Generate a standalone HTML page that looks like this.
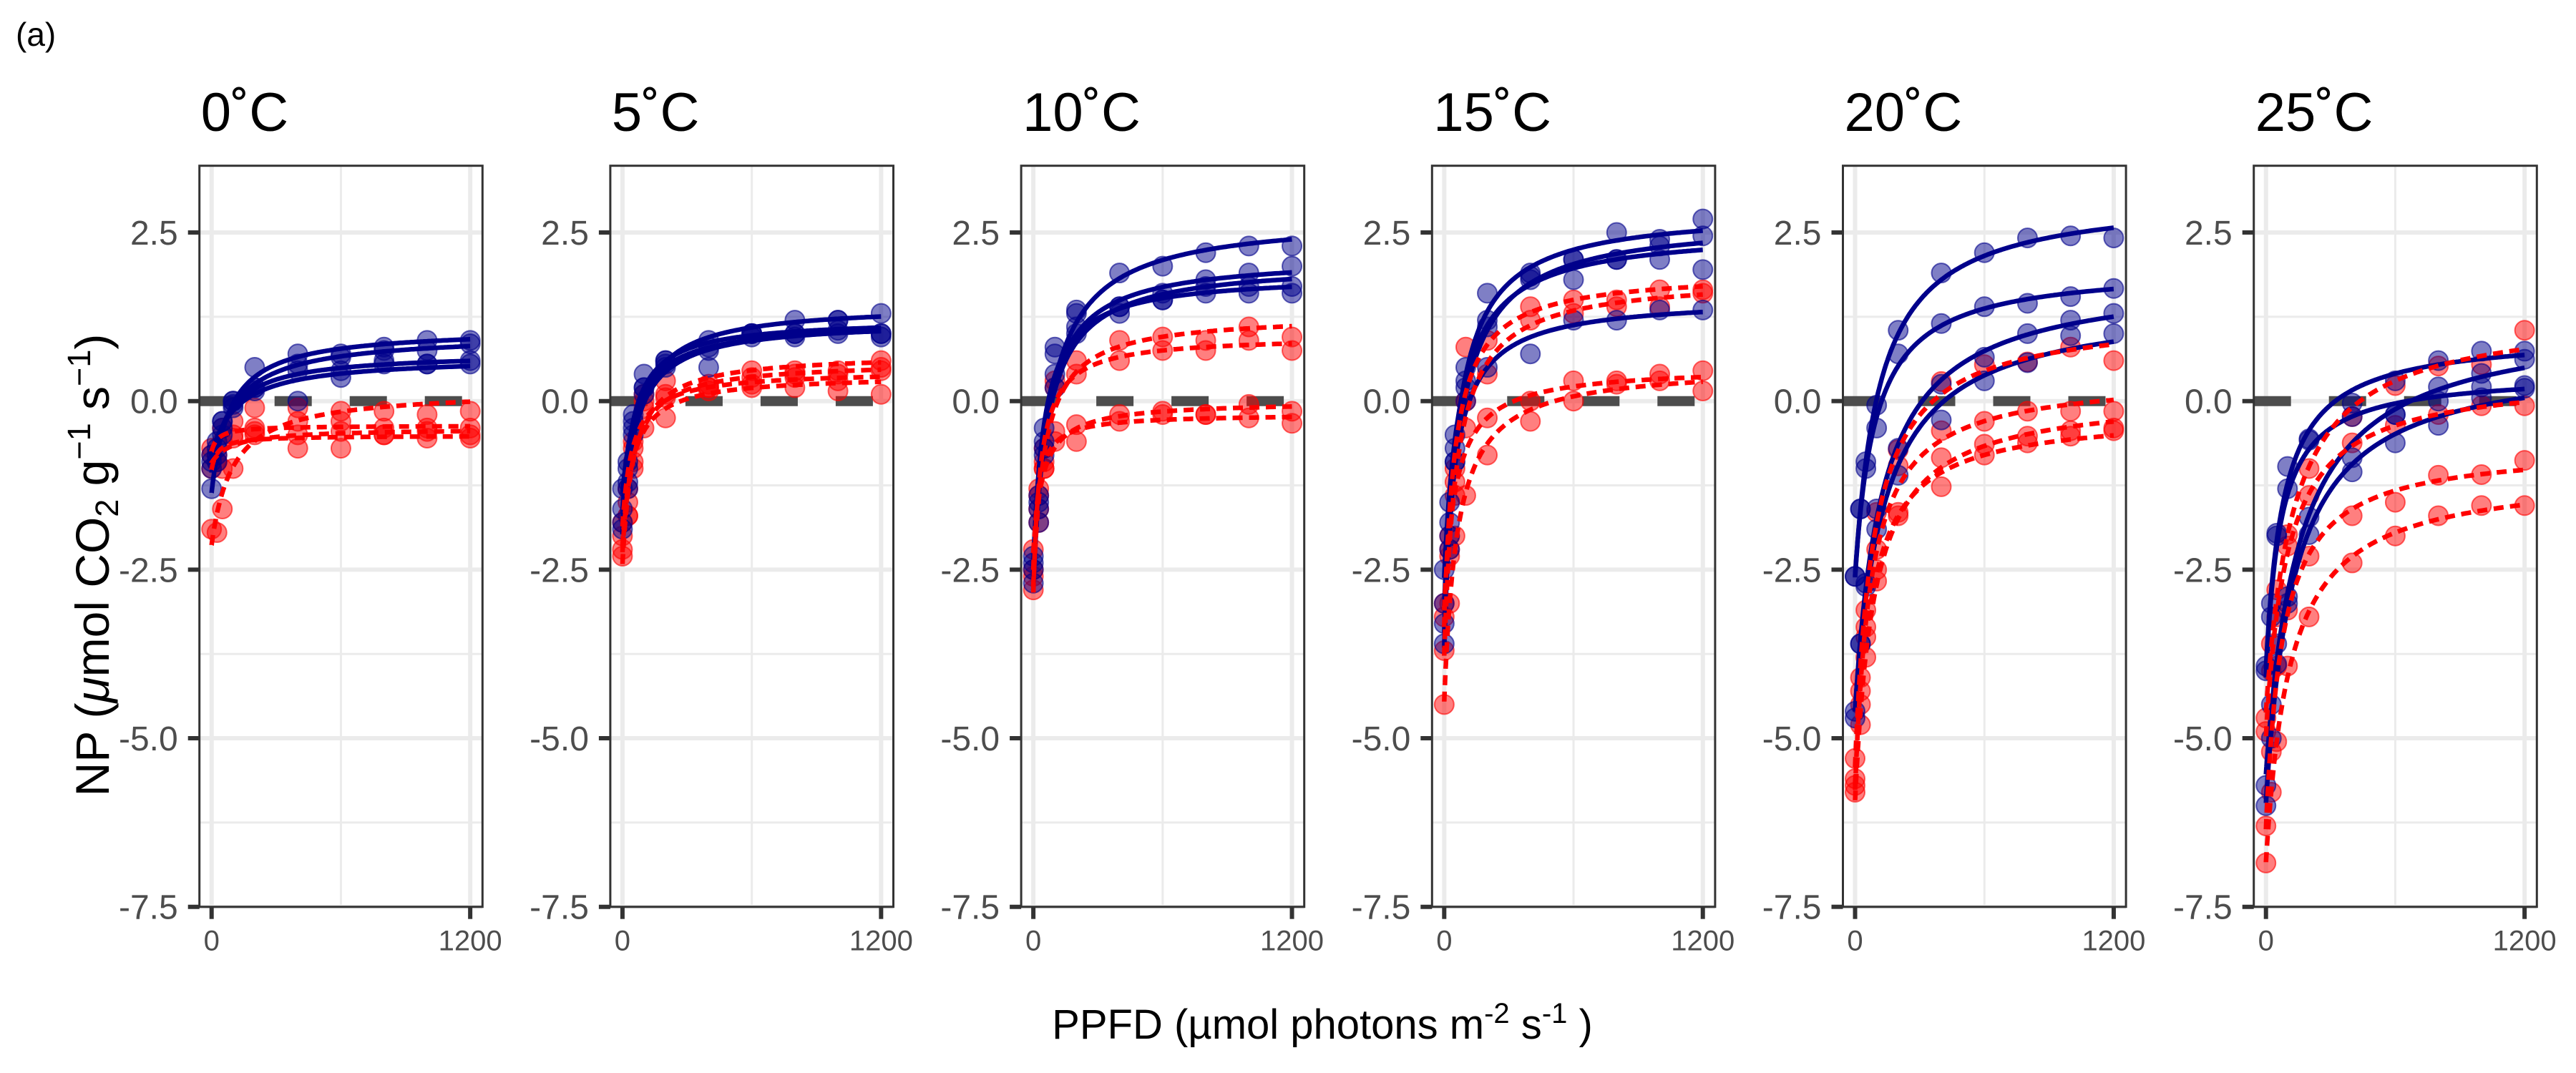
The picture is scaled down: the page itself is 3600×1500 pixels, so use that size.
<!DOCTYPE html>
<html><head><meta charset="utf-8"><style>
html,body{margin:0;padding:0;background:#fff;}
svg{display:block;font-family:"Liberation Sans",Arial,sans-serif;}
</style></head><body>
<svg id="chart" width="3600" height="1500" viewBox="0 0 3600 1500" xmlns="http://www.w3.org/2000/svg">
<text x="22" y="64" font-size="46" fill="#000">(a)</text>
<g id="panels"></g>
<text transform="translate(152,790) rotate(-90)" text-anchor="middle" font-size="66" fill="#000">NP (<tspan font-style="italic">μ</tspan>mol CO<tspan font-size="45" dy="13">2</tspan><tspan dy="-13"> g</tspan><tspan font-size="45" dy="-26">−1</tspan><tspan dy="26"> s</tspan><tspan font-size="45" dy="-26">−1</tspan><tspan dy="26">)</tspan></text>
<text x="1848" y="1452" text-anchor="middle" font-size="58" fill="#000">PPFD (µmol photons m<tspan font-size="40" dy="-22">-2</tspan><tspan dy="22"> s</tspan><tspan font-size="40" dy="-22">-1</tspan><tspan dy="22"> )</tspan></text>
</svg>
<script>
const temps = ["0˚C","5˚C","10˚C","15˚C","20˚C","25˚C"];
const ppfd = [0,25,50,100,200,400,600,800,1000,1200];
const yTicks = [2.5,0,-2.5,-5,-7.5];
const yTickLabels = ["2.5","0.0","-2.5","-5.0","-7.5"];
const xTicks = [0,1200];
const xTickLabels = ["0","1200"];
const blue0 = [[-1.3,-0.9,-0.5,0.0,0.5,0.7,0.7,0.8,0.9,0.9],[-0.9,-0.7,-0.3,-0.05,0.2,0.55,0.65,0.75,0.75,0.85],[-1.0,-0.8,-0.4,0.0,0.15,0.45,0.45,0.55,0.55,0.6],[-0.8,-0.6,-0.3,-0.1,0.2,0.0,0.35,0.6,0.55,0.55]];
const red0 = [[-1.9,-1.95,-1.6,-1.0,-0.1,-0.1,-0.15,-0.15,-0.2,-0.15],[-0.7,-0.8,-0.4,-0.3,-0.4,-0.3,-0.45,-0.4,-0.45,-0.4],[-1.0,-0.9,-0.6,-0.55,-0.5,-0.7,-0.7,-0.5,-0.4,-0.5],[-0.8,-0.9,-1.0,-0.5,-0.45,-0.5,-0.3,-0.5,-0.55,-0.55]];
const blue5 = [[-1.9,-1.3,-0.4,0.2,0.6,0.9,1.0,1.2,1.2,1.3],[-1.6,-1.0,-0.2,0.4,0.55,0.75,1.0,1.0,1.2,1.0],[-1.8,-1.2,-0.5,0.1,0.5,0.5,1.0,1.0,1.05,1.0],[-1.3,-0.9,-0.3,0.2,0.6,0.8,0.95,0.95,1.0,0.95]];
const red5 = [[-2.3,-1.7,-1.0,0.0,0.3,0.2,0.45,0.45,0.45,0.6],[-2.2,-1.5,-0.7,-0.4,0.1,0.2,0.35,0.4,0.4,0.5],[-1.8,-1.3,-0.6,0.1,-0.25,0.15,0.25,0.35,0.3,0.45],[-2.0,-1.7,-0.9,-0.1,0.05,0.25,0.2,0.2,0.15,0.1]];
const blue10 = [[-2.4,-1.8,-0.8,0.7,1.35,1.9,2.0,2.2,2.3,2.3],[-2.7,-1.6,-0.6,0.4,1.3,1.4,1.5,1.7,1.9,2.0],[-2.5,-1.5,-0.7,0.2,1.1,1.3,1.6,1.8,1.7,1.7],[-2.3,-1.4,-0.4,0.8,1.0,1.4,1.5,1.6,1.6,1.6]];
const red10 = [[-2.6,-1.8,-0.9,0.2,0.6,0.9,0.95,0.9,1.1,0.95],[-2.8,-1.4,-0.7,0.3,0.4,0.6,0.75,0.75,0.9,0.75],[-2.2,-1.6,-1.0,-0.6,-0.35,-0.2,-0.15,-0.2,-0.05,-0.15],[-2.5,-1.3,-1.0,-0.45,-0.6,-0.3,-0.2,-0.2,-0.25,-0.33]];
const blue15 = [[-3.6,-2.0,-0.5,0.5,1.2,1.9,2.1,2.5,2.4,2.7],[-3.3,-2.2,-0.9,0.3,1.1,1.85,1.8,2.1,2.3,2.45],[-2.5,-1.5,-0.7,0.2,1.6,1.8,2.1,2.1,2.1,1.95],[-3.0,-1.8,-0.9,0.0,0.5,0.7,1.2,1.2,1.35,1.35]];
const red15 = [[-3.2,-2.0,-1.0,0.8,0.9,1.2,1.5,1.5,1.65,1.65],[-3.7,-2.3,-1.2,0.0,0.4,1.4,1.3,1.4,1.4,1.6],[-4.5,-3.0,-2.0,-1.4,-0.8,-0.3,0.0,0.25,0.3,0.45],[-3.0,-2.2,-1.4,-0.4,-0.25,0.0,0.3,0.3,0.4,0.15]];
const blue20 = [[-2.6,-1.6,-0.9,-0.06,1.05,1.9,2.2,2.42,2.45,2.42],[-2.6,-1.6,-1.0,-0.4,0.7,1.15,1.4,1.45,1.55,1.67],[-4.6,-3.6,-2.75,-1.6,-0.7,0.25,0.65,1.0,1.2,1.3],[-4.7,-3.6,-2.7,-1.9,-1.1,-0.28,0.3,0.57,0.97,1.0]];
const red20 = [[-5.3,-4.1,-3.1,-1.65,-0.72,0.29,0.54,0.58,0.8,0.6],[-5.6,-4.5,-3.35,-2.2,-0.96,-0.44,-0.3,-0.15,-0.15,-0.15],[-5.8,-4.8,-3.8,-2.67,-1.65,-0.84,-0.64,-0.52,-0.44,-0.4],[-5.7,-4.3,-3.5,-2.5,-1.7,-1.27,-0.8,-0.62,-0.52,-0.44]];
const blue25 = [[-3.93,-3.0,-1.96,-0.97,-0.56,-0.03,0.3,0.6,0.74,0.74],[-4.0,-3.2,-2.0,-1.3,-0.58,-0.23,-0.2,0.0,0.21,0.19],[-5.7,-4.5,-3.6,-2.9,-1.72,-0.84,-0.2,0.21,0.41,0.62],[-6.0,-5.0,-3.9,-3.0,-1.98,-1.05,-0.62,-0.36,0.05,0.23]];
const red25 = [[-4.7,-3.6,-2.8,-1.98,-1.0,-0.23,0.23,0.52,0.54,1.05],[-4.9,-4.0,-3.2,-2.15,-1.4,-0.62,-0.36,-0.2,-0.07,-0.07],[-6.3,-5.2,-3.93,-3.1,-2.3,-1.7,-1.5,-1.1,-1.09,-0.88],[-6.85,-5.8,-5.05,-3.93,-3.2,-2.4,-2.0,-1.7,-1.55,-1.55]];
const blueSeries = [blue0,blue5,blue10,blue15,blue20,blue25];
const redSeries = [red0,red5,red10,red15,red20,red25];

const NS="http://www.w3.org/2000/svg";
const P0=278.7, STEP=574.2, PW=395.6, PT=231.7, PB=1267.7;
const YMIN=-7.5, YMAX=3.49, XMIN=-56.5, XMAX=1257;
function el(tag,attrs,parent){const e=document.createElementNS(NS,tag);for(const k in attrs)e.setAttribute(k,attrs[k]);parent.appendChild(e);return e;}
function fit(ys){
  let best=null;
  for(let i=0;i<=200;i++){
    const k=5*Math.pow(600,i/200);
    const u=ppfd.map(x=>x/(k+x));
    const n=u.length;let su=0,sy=0,suu=0,suy=0;
    for(let j=0;j<n;j++){su+=u[j];sy+=ys[j];suu+=u[j]*u[j];suy+=u[j]*ys[j];}
    const B=(n*suy-su*sy)/(n*suu-su*su);const R=(sy-B*su)/n;
    let sse=0;for(let j=0;j<n;j++){const d=R+B*u[j]-ys[j];sse+=d*d;}
    if(!best||sse<best.sse)best={k,R,B,sse};
  }
  return best;
}
const root=document.getElementById('panels');
temps.forEach((t,pi)=>{
  const L=P0+pi*STEP,R=L+PW;
  const sx=v=>L+(v-XMIN)/(XMAX-XMIN)*PW;
  const sy=v=>PB-(v-YMIN)/(YMAX-YMIN)*(PB-PT);
  const g=el('g',{},root);
  
  
  const title=el('text',{x:L+2,y:183,'font-size':76,fill:'#000'},g);title.textContent=t;
  
  
  const cp=el('clipPath',{id:'cp'+pi},g);el('rect',{x:L,y:PT,width:PW,height:PB-PT},cp);
  for(let v=-6.25;v<=3.5;v+=2.5){el('line',{x1:L,x2:R,y1:sy(v),y2:sy(v),stroke:'#ebebeb','stroke-width':3},g);}
  yTicks.forEach(v=>el('line',{x1:L,x2:R,y1:sy(v),y2:sy(v),stroke:'#ebebeb','stroke-width':6},g));
  el('line',{x1:sx(600),x2:sx(600),y1:PT,y2:PB,stroke:'#ebebeb','stroke-width':3},g);
  xTicks.forEach(v=>el('line',{x1:sx(v),x2:sx(v),y1:PT,y2:PB,stroke:'#ebebeb','stroke-width':6},g));
  const z=el('line',{x1:L,x2:R,y1:sy(0),y2:sy(0),stroke:'#4d4d4d','stroke-width':14,'stroke-dasharray':'52 53'},g);
  
  
  const pg=el('g',{'clip-path':'url(#cp'+pi+')'},g);
  const drawPts=(sets,fill,stroke,name)=>sets.forEach(s=>s.forEach((v,j)=>{
    const c=el('circle',{cx:sx(ppfd[j]),cy:sy(v),r:13.5,fill:fill,stroke:stroke,'stroke-width':2},pg);
    
    
  }));
  drawPts(redSeries[pi],'rgba(255,0,0,0.5)','rgba(255,0,0,0.6)','red-point');
  drawPts(blueSeries[pi],'rgba(0,0,139,0.5)','rgba(0,0,139,0.6)','blue-point');
  const drawFit=(sets,color,dash,name)=>sets.forEach(s=>{
    const f=fit(s);let d='';
    for(let i=0;i<=240;i++){const x=1200*Math.pow(i/240,2);const y=f.R+f.B*x/(f.k+x);d+=(i?'L':'M')+sx(x).toFixed(1)+','+sy(y).toFixed(1);}
    const p=el('path',{d:d,fill:'none',stroke:color,'stroke-width':6.5},pg);
    if(dash)p.setAttribute('stroke-dasharray',dash);
    
    
  });
  drawFit(blueSeries[pi],'#00008b',null,'blue-fit-line');
  drawFit(redSeries[pi],'#ff0000','14 9','red-fit-line');
  el('rect',{x:L,y:PT,width:PW,height:PB-PT,fill:'none',stroke:'#333','stroke-width':3},g);
  yTicks.forEach((v,i)=>{
    el('line',{x1:L-16,x2:L,y1:sy(v),y2:sy(v),stroke:'#333','stroke-width':6},g);
    const tx=el('text',{x:L-30,y:sy(v)+17,'font-size':48,fill:'#4d4d4d','text-anchor':'end'},g);tx.textContent=yTickLabels[i];
    
    
  });
  xTicks.forEach((v,i)=>{
    el('line',{x1:sx(v),x2:sx(v),y1:PB,y2:PB+17,stroke:'#333','stroke-width':6},g);
    const tx=el('text',{x:sx(v),y:PB+61,'font-size':40,fill:'#4d4d4d','text-anchor':'middle'},g);tx.textContent=xTickLabels[i];
    
    
  });
});
</script>
</body></html>
